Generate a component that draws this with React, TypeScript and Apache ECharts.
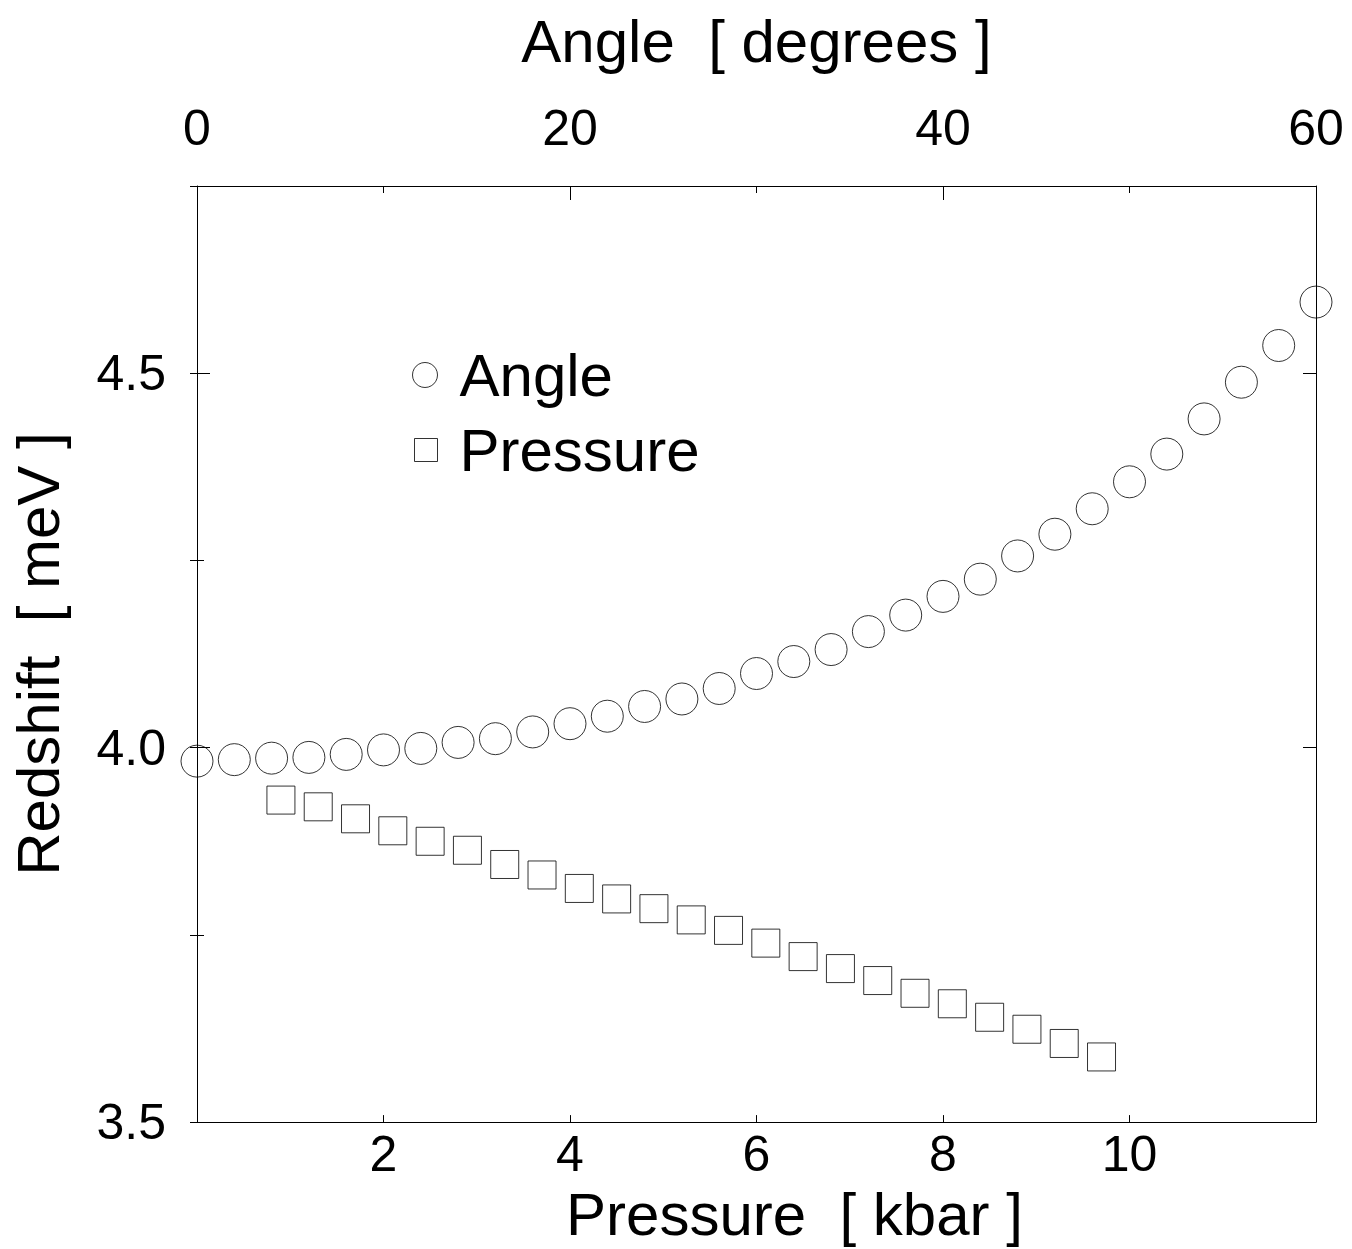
import React, { useEffect, useRef } from "react";
import * as echarts from "echarts";

// Angle series (top axis, degrees) and redshift in meV
const angleDegrees = [0, 2, 4, 6, 8, 10, 12, 14, 16, 18, 20, 22, 24, 26, 28, 30, 32, 34, 36, 38, 40, 42, 44, 46, 48, 50, 52, 54, 56, 58, 60];
const angleRedshift = [3.982, 3.984, 3.986, 3.987, 3.991, 3.997, 3.999, 4.007, 4.012, 4.021, 4.032, 4.042, 4.055, 4.065, 4.079, 4.099, 4.115, 4.131, 4.155, 4.177, 4.202, 4.225, 4.256, 4.285, 4.319, 4.355, 4.392, 4.439, 4.488, 4.537, 4.595];

// Pressure series (bottom axis, kbar) and redshift in meV
const pressureKbar = [0.9, 1.3, 1.7, 2.1, 2.5, 2.9, 3.3, 3.7, 4.1, 4.5, 4.9, 5.3, 5.7, 6.1, 6.5, 6.9, 7.3, 7.7, 8.1, 8.5, 8.9, 9.3, 9.7];
const pressureRedshift = [3.930, 3.921, 3.905, 3.889, 3.875, 3.863, 3.844, 3.830, 3.812, 3.798, 3.785, 3.770, 3.756, 3.739, 3.721, 3.705, 3.689, 3.672, 3.658, 3.640, 3.624, 3.605, 3.587];

const seriesNames = ["Angle", "Pressure"];
const xTitle = "Pressure  [ kbar ]";
const topTitle = "Angle  [ degrees ]";
const yTitle = "Redshift  [ meV ]";

const FONT = "'Liberation Sans', Arial, Helvetica, sans-serif";

export default function App() {
  const ref = useRef<HTMLDivElement>(null);

  useEffect(() => {
    document.body.style.margin = "0";
    if (!ref.current) return;
    const chart = echarts.init(ref.current, null, { renderer: "svg" });

    const line = { show: true, onZero: false, lineStyle: { color: "#000", width: 1 } };
    const tickStyle = { color: "#000", width: 1 };
    const labelBase = { color: "#000", fontSize: 50, fontFamily: FONT };
    const nameBase = { color: "#000", fontSize: 60, fontFamily: FONT };
    const yMin = 3.5;
    const yMax = 4.75;

    const option: any = {
      animation: false,
      backgroundColor: "#fff",
      grid: { left: 196, right: 36, top: 186, bottom: 125, containLabel: false },
      legend: [
        {
          data: [seriesNames[0]],
          left: 407,
          top: 340,
          orient: "vertical",
          itemWidth: 25,
          itemHeight: 25,
          selectedMode: false,
          itemStyle: { color: "rgba(255,255,255,0)", borderColor: "#000", borderWidth: 1 },
          textStyle: { ...nameBase, padding: [0, 0, 0, 17] },
        },
        {
          data: [seriesNames[1]],
          left: 409,
          top: 415,
          orient: "vertical",
          itemWidth: 23,
          itemHeight: 23,
          selectedMode: false,
          itemStyle: { color: "rgba(255,255,255,0)", borderColor: "#000", borderWidth: 1 },
          textStyle: { ...nameBase, padding: [0, 0, 0, 17] },
        },
      ],
      xAxis: [
        {
          type: "value",
          position: "bottom",
          min: 0,
          max: 12,
          interval: 2,
          axisLine: line,
          axisTick: { show: true, inside: true, length: 7, lineStyle: tickStyle },
          axisLabel: { ...labelBase, margin: 7, showMinLabel: false, showMaxLabel: false },
          splitLine: { show: false },
          name: xTitle,
          nameLocation: "middle",
          nameGap: 61,
          nameTextStyle: { ...nameBase, padding: [0, 0, 0, 76] },
        },
        {
          type: "value",
          position: "top",
          min: 0,
          max: 60,
          interval: 20,
          axisLine: line,
          axisTick: { show: true, inside: true, length: 14, lineStyle: tickStyle },
          minorTick: { show: true, splitNumber: 2, length: 7, lineStyle: tickStyle },
          axisLabel: { ...labelBase, margin: 33 },
          splitLine: { show: false },
          name: topTitle,
          nameLocation: "middle",
          nameGap: 115,
          nameTextStyle: nameBase,
        },
      ],
      yAxis: [
        {
          type: "value",
          position: "left",
          min: yMin,
          max: yMax,
          interval: 0.5,
          axisLine: line,
          axisTick: { show: true, inside: true, length: 13, lineStyle: tickStyle },
          axisLabel: {
            ...labelBase,
            margin: 31,
            showMaxLabel: false,
            formatter: (v: number) => v.toFixed(1),
          },
          splitLine: { show: false },
          name: yTitle,
          nameLocation: "middle",
          nameGap: 129,
          nameTextStyle: nameBase,
        },
        {
          type: "value",
          position: "right",
          min: yMin,
          max: yMax,
          interval: 0.5,
          axisLine: line,
          axisTick: { show: true, inside: true, length: 13, lineStyle: tickStyle },
          axisLabel: { show: false },
          splitLine: { show: false },
        },
        {
          type: "value",
          position: "left",
          min: yMin,
          max: yMax,
          interval: 0.25,
          axisLine: { show: false },
          axisTick: { show: true, inside: true, length: 7, lineStyle: tickStyle },
          axisLabel: { show: false },
          splitLine: { show: false },
        },
        {
          type: "value",
          position: "right",
          min: yMin,
          max: yMax,
          interval: 0.25,
          axisLine: { show: false },
          axisTick: { show: true, inside: true, length: 7, lineStyle: tickStyle },
          axisLabel: { show: false },
          splitLine: { show: false },
        },
      ],
      series: [
        {
          name: seriesNames[0],
          type: "scatter",
          xAxisIndex: 1,
          yAxisIndex: 0,
          symbol: "circle",
          symbolSize: 32,
          itemStyle: { color: "rgba(255,255,255,0)", borderColor: "#000", borderWidth: 1 },
          data: angleDegrees.map((x, i) => [x, angleRedshift[i]]),
          clip: false,
        },
        {
          name: seriesNames[1],
          type: "scatter",
          xAxisIndex: 0,
          yAxisIndex: 0,
          symbol: "rect",
          symbolSize: 28,
          itemStyle: { color: "rgba(255,255,255,0)", borderColor: "#000", borderWidth: 1 },
          data: pressureKbar.map((x, i) => [x, pressureRedshift[i]]),
          clip: false,
        },
      ],
    };

    chart.setOption(option);
    return () => {
      chart.dispose();
    };
  }, []);

  return (
    <div
      ref={ref}
      style={{ position: "absolute", left: 0, top: 0, width: 1352, height: 1249 }}
    />
  );
}
